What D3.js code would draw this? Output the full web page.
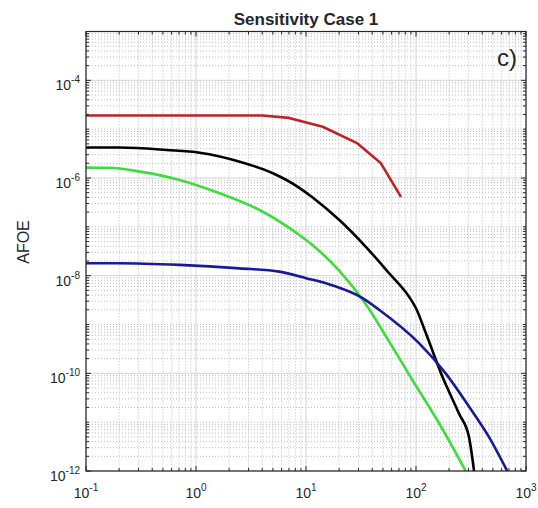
<!DOCTYPE html>
<html>
<head>
<meta charset="utf-8">
<script src="https://cdn.jsdelivr.net/npm/d3@7"></script>
<style>
  body { margin: 0; background: #fff; }
  text { font-family: "Liberation Sans", Arial, sans-serif; fill: #262626; }
</style>
</head>
<body>
<div id="chart"></div>
<script>
// values (x, AFOE)
var redX = [0.1, 4, 7, 14.2, 29.4, 48, 73];
var redY = [1.9e-5, 1.9e-5, 1.7e-5, 1.12e-5, 5.1e-6, 2.0e-6, 4.1e-7];

var blackX = [0.1, 0.2, 0.54, 1.08, 2.5, 5.0, 8.7, 11.5, 20.1, 35, 57, 86.5, 100, 123, 174, 246, 303, 337];
var blackY = [4.2e-6, 4.2e-6, 3.75e-6, 3.3e-6, 2.16e-6, 1.25e-6, 6.3e-7, 4.0e-7, 1.38e-7, 3.9e-8, 1.12e-8, 3.7e-9, 2.15e-9, 6.6e-10, 8.5e-11, 1.5e-11, 5.0e-12, 1.0e-12];

var greenX = [0.1, 0.16, 0.31, 0.71, 1.64, 3.78, 8.7, 11.5, 20.1, 35, 57, 92.7, 162, 283];
var greenY = [1.63e-6, 1.62e-6, 1.35e-6, 9.1e-7, 4.86e-7, 2.21e-7, 6.8e-8, 4.2e-8, 1.25e-8, 2.6e-9, 4.47e-10, 7.3e-11, 9.5e-12, 1.0e-12];

var blueX = [0.1, 0.2, 0.71, 2.49, 5.74, 10, 17.5, 32.7, 46.2, 107, 186, 303, 460, 675];
var blueY = [1.8e-8, 1.8e-8, 1.66e-8, 1.41e-8, 1.21e-8, 8.9e-9, 6.3e-9, 3.47e-9, 2.0e-9, 4.1e-10, 1.0e-10, 2.1e-11, 5.0e-12, 1.0e-12];

var xTicks = [0.1, 1, 10, 100, 1000];
var xTickExp = ["-1", "0", "1", "2", "3"];
var yTicks = [1e-12, 1e-10, 1e-8, 1e-6, 1e-4];
var yTickExp = ["-12", "-10", "-8", "-6", "-4"];

var margin = { top: 31.5, right: 12, bottom: 37, left: 86 };
var svgWidth = 538;
var svgHeight = 508;
var width = svgWidth - margin.left - margin.right;
var height = svgHeight - margin.top - margin.bottom;

var svg = d3.select("#chart")
  .append("svg")
  .attr("width", svgWidth)
  .attr("height", svgHeight);

var plot = svg.append("g")
  .attr("transform", `translate(${margin.left}, ${margin.top})`);

var xScale = d3.scaleLog().domain([0.1, 1000]).range([0, width]);
var yScale = d3.scaleLog().domain([1e-12, 1e-3]).range([height, 0]);

// minor positions: 1..9 x 10^n
function minorValues(lo, hi) {
  var out = [];
  for (var e = lo; e < hi; e++) {
    for (var k = 1; k <= 9; k++) out.push(k * Math.pow(10, e));
  }
  return out;
}
var xMinor = minorValues(-1, 3).filter(v => !xTicks.some(t => Math.abs(t - v) / t < 1e-9));
var yMinor = minorValues(-12, -3).filter(v => !yTicks.some(t => Math.abs(t - v) / t < 1e-9));

// grid
var grid = plot.append("g");
grid.selectAll(".xminor").data(xMinor).enter().append("line")
  .attr("x1", d => xScale(d)).attr("x2", d => xScale(d))
  .attr("y1", 0).attr("y2", height)
  .attr("stroke", "#bdbdbd").attr("stroke-dasharray", "1,2");
grid.selectAll(".yminor").data(yMinor).enter().append("line")
  .attr("y1", d => yScale(d)).attr("y2", d => yScale(d))
  .attr("x1", 0).attr("x2", width)
  .attr("stroke", "#bdbdbd").attr("stroke-dasharray", "1,2");
grid.selectAll(".xmajor").data(xTicks).enter().append("line")
  .attr("x1", d => xScale(d)).attr("x2", d => xScale(d))
  .attr("y1", 0).attr("y2", height)
  .attr("stroke", "#d4d4d4");
grid.selectAll(".ymajor").data(yTicks).enter().append("line")
  .attr("y1", d => yScale(d)).attr("y2", d => yScale(d))
  .attr("x1", 0).attr("x2", width)
  .attr("stroke", "#d4d4d4");

// curves
plot.append("clipPath").attr("id", "clip")
  .append("rect").attr("width", width).attr("height", height);

var lineGen = d3.line()
  .x(d => xScale(d[0]))
  .y(d => yScale(d[1]));

var series = [
  { xs: redX, ys: redY, color: "#bf2227", curve: d3.curveLinear },
  { xs: blackX, ys: blackY, color: "#000000", curve: d3.curveMonotoneX },
  { xs: greenX, ys: greenY, color: "#3fdc3f", curve: d3.curveMonotoneX },
  { xs: blueX, ys: blueY, color: "#1a1a94", curve: d3.curveMonotoneX }
];

series.forEach(function (s) {
  plot.append("path")
    .attr("clip-path", "url(#clip)")
    .attr("d", lineGen.curve(s.curve)(d3.zip(s.xs, s.ys)))
    .attr("fill", "none")
    .attr("stroke", s.color)
    .attr("stroke-width", 2.6)
    .attr("stroke-linejoin", "round");
});

// ticks on all four sides, pointing inward
var ticks = plot.append("g").attr("stroke", "#262626");
function tickMarks(values, len, isX) {
  values.forEach(function (v) {
    if (isX) {
      var px = xScale(v);
      ticks.append("line").attr("x1", px).attr("x2", px).attr("y1", height).attr("y2", height - len);
      ticks.append("line").attr("x1", px).attr("x2", px).attr("y1", 0).attr("y2", len);
    } else {
      var py = yScale(v);
      ticks.append("line").attr("y1", py).attr("y2", py).attr("x1", 0).attr("x2", len);
      ticks.append("line").attr("y1", py).attr("y2", py).attr("x1", width).attr("x2", width - len);
    }
  });
}
tickMarks(xMinor, 3, true);
tickMarks(yMinor, 3, false);
tickMarks(xTicks, 5, true);
tickMarks(yTicks, 5, false);

// box
plot.append("rect")
  .attr("width", width).attr("height", height)
  .attr("fill", "none").attr("stroke", "#262626").attr("stroke-width", 1.2);

// tick labels
xTicks.forEach(function (v, i) {
  var t = plot.append("text")
    .attr("x", xScale(v))
    .attr("y", height + 27)
    .attr("text-anchor", "middle")
    .attr("font-size", 14);
  t.append("tspan").text("10");
  t.append("tspan").attr("dy", -7).attr("font-size", 10).text(xTickExp[i]);
});
yTicks.forEach(function (v, i) {
  var t = plot.append("text")
    .attr("x", -6)
    .attr("y", yScale(v) + 10)
    .attr("text-anchor", "end")
    .attr("font-size", 14);
  t.append("tspan").text("10");
  t.append("tspan").attr("dy", -7).attr("font-size", 10).text(yTickExp[i]);
});

// title, axis label, panel tag
svg.append("text")
  .attr("x", margin.left + width / 2)
  .attr("y", 25)
  .attr("text-anchor", "middle")
  .attr("font-size", 17)
  .attr("font-weight", "bold")
  .attr("fill", "#000")
  .text("Sensitivity Case 1");

svg.append("text")
  .attr("transform", "rotate(-90)")
  .attr("x", -242)
  .attr("y", 29)
  .attr("text-anchor", "middle")
  .attr("font-size", 16)
  .text("AFOE");

svg.append("text")
  .attr("x", 497)
  .attr("y", 66)
  .attr("font-family", "'Open Sans', sans-serif")
  .attr("font-size", 24)
  .attr("fill", "#000")
  .text("c)");
</script>
</body>
</html>
